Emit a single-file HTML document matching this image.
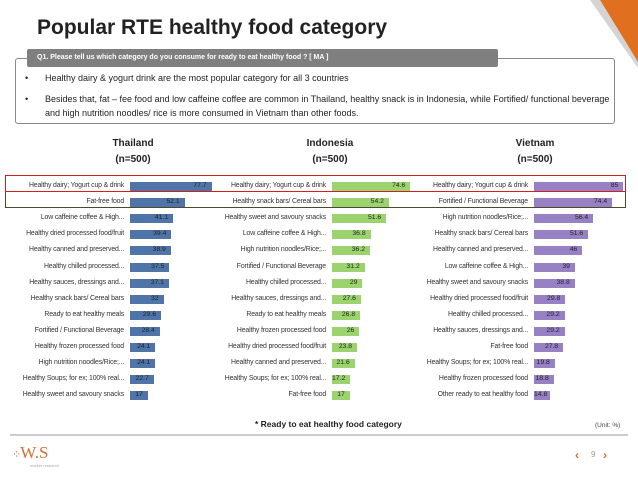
<!DOCTYPE html>
<html><head><meta charset="utf-8"><style>
body{margin:0;width:638px;height:479px;overflow:hidden;background:#fff;font-family:"Liberation Sans",sans-serif;position:relative}
.a{position:absolute}
.lbl{position:absolute;font-size:6.9px;color:#333;text-align:right;white-space:nowrap;letter-spacing:-0.15px}
.bar{position:absolute;height:9px}
.val{position:absolute;font-size:6.8px;color:#222;text-align:right}
.ct{position:absolute;width:100px;text-align:center;font-size:10px;font-weight:bold;color:#222;line-height:16px}
</style></head><body>
<svg class="a" style="left:590px;top:0" width="48" height="70"><polygon points="10,0 48,0 48,62" fill="#e07020"/><polygon points="0,0 10,0 48,62 48,68" fill="#aaa" opacity="0.5"/></svg>
<div class="a" style="left:37px;top:16px;font-size:21px;font-weight:bold;color:#222">Popular RTE healthy food category</div>
<div class="a" style="left:15px;top:58px;width:598px;height:64px;border:1px solid #888;border-radius:3px"></div>
<div class="a" style="left:27px;top:49px;width:471px;height:18px;background:#7f7f7f;border-radius:2px;color:#fff;font-size:7px;font-weight:bold;line-height:18px;padding-left:10px;box-sizing:border-box">Q1. Please tell us which category do you consume for ready to eat healthy food ? [ MA ]</div>
<div class="a" style="left:25px;top:73px;font-size:9px;color:#222">•<span style="position:absolute;left:20px;white-space:nowrap">Healthy dairy &amp; yogurt drink are the most popular category for all 3 countries</span></div>
<div class="a" style="left:25px;top:92px;font-size:9px;color:#222;line-height:14px">•<span style="position:absolute;left:20px;width:580px">Besides that, fat – fee food and low caffeine coffee are common in Thailand, healthy snack is in Indonesia, while Fortified/ functional beverage and high nutrition noodles/ rice is more consumed in Vietnam than other foods.</span></div>
<div class="ct" style="left:83px;top:136px">Thailand<br>(n=500)</div>
<div class="ct" style="left:280px;top:136px">Indonesia<br>(n=500)</div>
<div class="ct" style="left:485px;top:136px">Vietnam<br>(n=500)</div>
<div id="chart"></div>
<div class="a" style="left:5px;top:191px;width:621px;height:17px;border:1px solid #4a4a30;box-sizing:border-box"></div>
<div class="a" style="left:5px;top:175px;width:621px;height:17px;border:1px solid #d02020;box-sizing:border-box"></div>
<div class="a" style="left:255px;top:419px;font-size:8.5px;font-weight:bold;color:#222">* Ready to eat healthy food category</div>
<div class="a" style="left:595px;top:422px;font-size:6.5px;color:#444">(Unit: %)</div>
<div class="a" style="left:10px;top:434px;width:618px;height:2px;background:#ccc"></div>
<div class="a" style="left:12px;top:443px;font-size:17px;color:#d07030;font-family:'Liberation Serif',serif;white-space:nowrap"><span style="font-size:11px;letter-spacing:-1px">⁘</span>W.S<div style="font-size:4px;color:#aaa;margin-left:18px;font-family:'Liberation Sans'">market research</div></div>
<div class="a" style="left:575px;top:448px;font-size:12px;color:#e07020;font-weight:bold">‹</div>
<div class="a" style="left:591px;top:450px;font-size:8px;color:#999">9</div>
<div class="a" style="left:603px;top:448px;font-size:12px;color:#e07020;font-weight:bold">›</div>
<script>
const thLabels=["Healthy dairy; Yogurt cup & drink","Fat-free food","Low caffeine coffee & High...","Healthy dried processed food/fruit","Healthy canned and preserved...","Healthy chilled processed...","Healthy sauces, dressings and...","Healthy snack bars/ Cereal bars","Ready to eat healthy meals","Fortified / Functional Beverage","Healthy frozen processed food","High nutrition noodles/Rice;...","Healthy Soups; for ex; 100% real...","Healthy sweet and savoury snacks"];
const thValues=[77.7,52.1,41.1,39.4,38.9,37.5,37.1,32,29.6,28.4,24.1,24.1,22.7,17];
const idLabels=["Healthy dairy; Yogurt cup & drink","Healthy snack bars/ Cereal bars","Healthy sweet and savoury snacks","Low caffeine coffee & High...","High nutrition noodles/Rice;...","Fortified / Functional Beverage","Healthy chilled processed...","Healthy sauces, dressings and...","Ready to eat healthy meals","Healthy frozen processed food","Healthy dried processed food/fruit","Healthy canned and preserved...","Healthy Soups; for ex; 100% real...","Fat-free food"];
const idValues=[74.6,54.2,51.6,36.8,36.2,31.2,29,27.6,26.8,26,23.8,21.6,17.2,17];
const vnLabels=["Healthy dairy; Yogurt cup & drink","Fortified / Functional Beverage","High nutrition noodles/Rice;...","Healthy snack bars/ Cereal bars","Healthy canned and preserved...","Low caffeine coffee & High...","Healthy sweet and savoury snacks","Healthy dried processed food/fruit","Healthy chilled processed...","Healthy sauces, dressings and...","Fat-free food","Healthy Soups; for ex; 100% real...","Healthy frozen processed food","Other ready to eat healthy food"];
const vnValues=[85,74.4,56.4,51.6,46,39,38.8,29.8,29.2,29.2,27.8,19.8,18.8,14.8];
const panels=[{k:"thailand",labels:thLabels,values:thValues,x0:130,color:"#4f75a8"},{k:"indonesia",labels:idLabels,values:idValues,x0:332,color:"#9bd46e"},{k:"vietnam",labels:vnLabels,values:vnValues,x0:534,color:"#9880c4"}];
const scale=1.05,rowY=i=>186.5+i*16.1;
const c=document.getElementById('chart');
panels.forEach(p=>{p.values.forEach((v,i)=>{
 const y=rowY(i);
 const l=document.createElement('div');l.className='lbl';
 
 
 l.style.right=(638-p.x0+6)+'px';l.style.top=(y-4.5)+'px';l.textContent=p.labels[i];c.appendChild(l);
 const b=document.createElement('div');b.className='bar';
 
 
 b.style.left=p.x0+'px';b.style.top=(y-4.5)+'px';b.style.width=(v*scale)+'px';b.style.background=p.color;c.appendChild(b);
 const t=document.createElement('div');t.className='val';
 
 
 t.style.left=p.x0+'px';t.style.width=(v*scale-5)+'px';t.style.top=(y-4.5)+'px';t.textContent=v;c.appendChild(t);
});});
</script>
</body></html>
